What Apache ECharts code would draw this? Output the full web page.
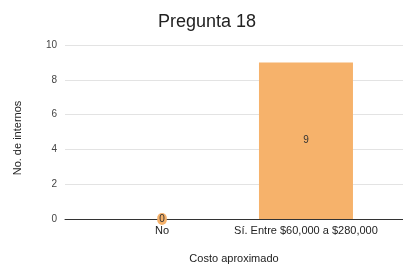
<!DOCTYPE html>
<html>
<head>
<meta charset="utf-8">
<script src="https://cdn.jsdelivr.net/npm/echarts@6/dist/echarts.min.js"></script>
<style>
  html, body { margin: 0; padding: 0; background: #fff; }
  #chart { width: 403px; height: 265px; }
</style>
</head>
<body>
<div id="chart"></div>
<script>
const categories = ["No", "Sí. Entre $60,000 a $280,000"]
const counts = [0, 9]
const yTicks = [0, 2, 4, 6, 8, 10]

const chart = echarts.init(document.getElementById("chart"))
const font = "Liberation Sans, Arial, sans-serif"

const option = {
  animation: false,
  textStyle: { fontFamily: font },
  title: {
    text: "Pregunta 18",
    left: 153,
    top: 8,
    textStyle: { fontSize: 18, fontWeight: "normal", color: "#222", fontFamily: font },
  },
  grid: { left: 65, right: 0, top: 45, bottom: 46, outerBoundsMode: "none", containLabel: false },
  xAxis: {
    type: "value",
    min: -0.674,
    max: 1.674,
    name: "Costo aproximado",
    nameLocation: "middle",
    nameGap: 34,
    nameTextStyle: { fontSize: 11, color: "#222", fontFamily: font },
    axisLine: { show: true, onZero: false, lineStyle: { color: "#333", width: 1 } },
    axisTick: { show: false },
    splitLine: { show: false },
    axisLabel: {
      customValues: categories.map((c, i) => i),
      formatter: (v) => categories[v] || "",
      fontSize: 11,
      color: "#222",
      margin: 6,
    },
  },
  yAxis: {
    type: "value",
    min: yTicks[0],
    max: yTicks[yTicks.length - 1],
    interval: 2,
    name: "No. de internos",
    nameLocation: "middle",
    nameGap: 42,
    nameTextStyle: { fontSize: 11, color: "#222", fontFamily: font, padding: [0, 12, 0, 0] },
    axisLine: { show: false },
    axisTick: { show: false },
    splitLine: { lineStyle: { color: "#e3e3e3" } },
    axisLabel: { fontSize: 10, color: "#444", margin: 8 },
  },
  series: [
    {
      type: "bar",
      barWidth: 94,
      itemStyle: { color: "#f6b26b" },
      data: counts.map((v, i) => ({
        value: [i, v],
        label:
          v === 0
            ? {
                show: true,
                position: "inside",
                formatter: "0",
                color: "#333",
                fontSize: 10,
                backgroundColor: "#f6b26b",
                borderRadius: 5,
                padding: [1, 2],
              }
            : { show: true, position: "inside", formatter: String(v), color: "#333", fontSize: 10 },
      })),
    },
  ],
}

chart.setOption(option)
</script>
</body>
</html>
